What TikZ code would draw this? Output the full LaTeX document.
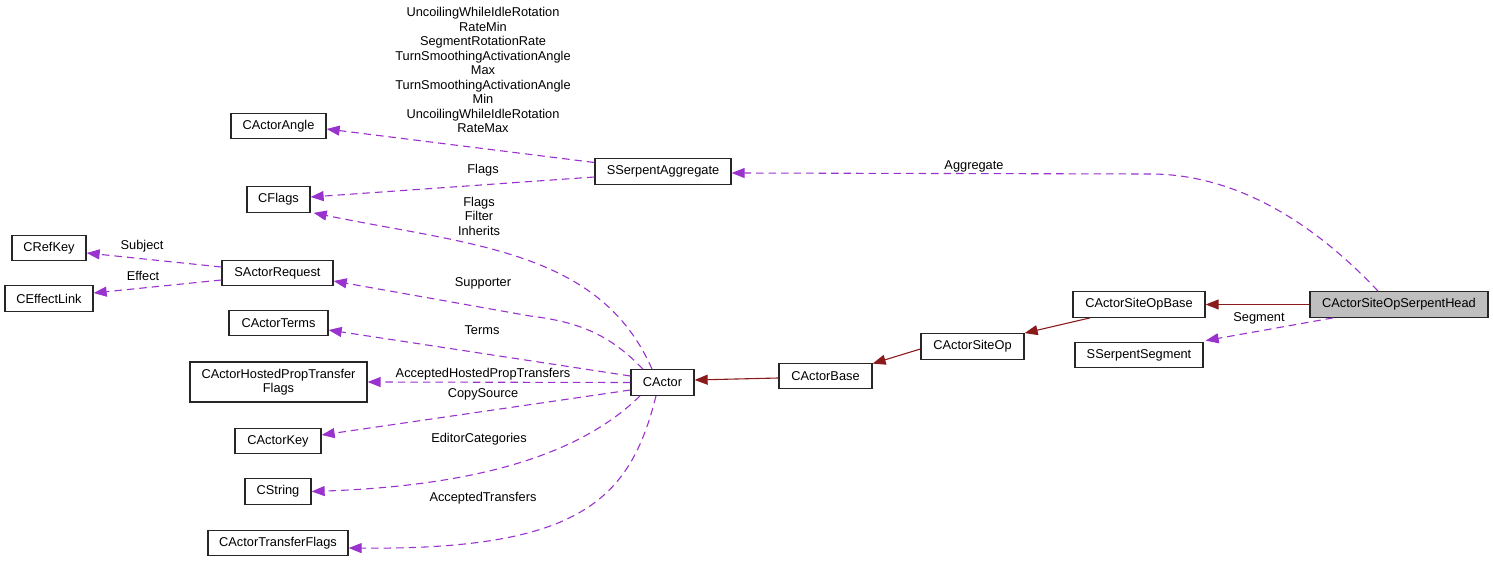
\documentclass[tikz,border=0pt]{standalone}
\usepackage{fontspec}
\setmainfont{Liberation Sans}
\usetikzlibrary{arrows.meta,calc}
\definecolor{edgepurple}{HTML}{9A32CD}
\definecolor{edgered}{HTML}{8B1A1A}
\definecolor{headgray}{HTML}{BFBFBF}
\begin{document}
\begin{tikzpicture}[x=1pt,y=-1pt,
 cls/.style={draw=black!85, line width=1.3pt, fill=white, inner sep=0pt, font=\fontsize{12.8}{14.5}\selectfont, align=center, minimum height=25.5pt},
 lbl/.style={inner sep=0pt, font=\fontsize{12.8}{14.5}\selectfont, align=center},
 usage/.style={draw=edgepurple, line width=1.1pt, dash pattern=on 7.5pt off 5pt, -{Triangle[length=13pt,width=10pt]}},
 inh/.style={draw=edgered, line width=1.1pt, -{Triangle[length=13pt,width=10pt]}}
]
\useasboundingbox (0,0) rectangle (1493,561);

% classes
\node[cls, minimum width=178pt, fill=headgray] (head) at (1399,304.5) {CActorSiteOpSerpentHead};
\node[cls, minimum width=132pt] (sobase) at (1139,304.5) {CActorSiteOpBase};
\node[cls, minimum width=128pt] (segment) at (1139,355) {SSerpentSegment};
\node[cls, minimum width=103pt] (siteop) at (972.5,346.5) {CActorSiteOp};
\node[cls, minimum width=93pt] (cbase) at (825.5,376) {CActorBase};
\node[cls, minimum width=63pt] (cactor) at (662.5,382.5) {CActor};
\node[cls, minimum width=136pt] (agg) at (663,171.5) {SSerpentAggregate};
\node[cls, minimum width=95pt] (angle) at (278.5,126) {CActorAngle};
\node[cls, minimum width=63pt] (flags) at (278.5,199.5) {CFlags};
\node[cls, minimum width=74pt] (refkey) at (49,248) {CRefKey};
\node[cls, minimum width=111pt] (sreq) at (277.5,273) {SActorRequest};
\node[cls, minimum width=88pt] (effect) at (49,298.5) {CEffectLink};
\node[cls, minimum width=99pt] (terms) at (278.5,323) {CActorTerms};
\node[cls, minimum width=177pt, minimum height=40pt] (hosted) at (278.5,382) {CActorHostedPropTransfer\\Flags};
\node[cls, minimum width=86pt] (key) at (278,441) {CActorKey};
\node[cls, minimum width=66pt] (cstring) at (278,491.5) {CString};
\node[cls, minimum width=140pt] (tflags) at (278,543) {CActorTransferFlags};

% inheritance
\draw[inh] (head.west) -- (sobase.east);
\draw[inh] ($(sobase.south)+(-49,0)$) -- (siteop.north east);
\draw[inh] ($(siteop.west)+(0,2.5)$) -- ($(cbase.north east)+(0,1)$);
\draw[inh] ($(cbase.west)+(0,2)$) -- ($(cactor.east)+(0,-2.5)$);

% usage
\draw[usage] ($(head.north)+(-21,0)$) .. controls (1330,240) and (1250,174) .. (1150,174) -- ($(agg.east)+(0,1.5)$);
\draw[usage] ($(head.south)+(-66,0)$) -- ($(segment.north east)+(2,-1)$);
\draw[usage] ($(agg.west)+(0,-9)$) -- ($(angle.east)+(0,3)$);
\draw[usage] ($(agg.west)+(0,5.5)$) -- ($(flags.east)+(0,-2.5)$);
\draw[usage] ($(cactor.north)+(-10.5,0)$) .. controls (600,250) and (470,245) .. ($(flags.south east)+(3,0)$);
\draw[usage] ($(cactor.north)+(-19.5,0)$) .. controls (610,335) and (580,322) .. (530,316) -- ($(sreq.east)+(0,8)$);
\draw[usage] ($(cactor.west)+(0,-6.5)$) -- ($(terms.east)+(0,7)$);
\draw[usage] (cactor.west) -- (hosted.east);
\draw[usage] ($(cactor.west)+(0,7.5)$) -- ($(key.east)+(0,-6)$);
\draw[usage] ($(cactor.south)+(-22.5,0)$) .. controls (590,445) and (500,485) .. (cstring.east);
\draw[usage] ($(cactor.south)+(-6.5,0)$) .. controls (630,500) and (580,550) .. ($(tflags.east)+(0,5)$);
\draw[usage] ($(sreq.west)+(0,-6)$) -- ($(refkey.east)+(0,5)$);
\draw[usage] ($(sreq.west)+(0,7)$) -- ($(effect.east)+(0,-5.5)$);

% labels
\node[lbl] (lAggregate) at (974,166) {Aggregate};
\node[lbl] (lSegment) at (1259,318) {Segment};
\node[lbl] (lAngle) at (483,70) {UncoilingWhileIdleRotation\\RateMin\\SegmentRotationRate\\TurnSmoothingActivationAngle\\Max\\TurnSmoothingActivationAngle\\Min\\UncoilingWhileIdleRotation\\RateMax};
\node[lbl] (lFlagsAgg) at (483,170) {Flags};
\node[lbl] (lFlagsActor) at (479,216) {Flags\\Filter\\Inherits};
\node[lbl] (lSubject) at (142,246) {Subject};
\node[lbl] (lEffect) at (143,276) {Effect};
\node[lbl] (lSupporter) at (483,283) {Supporter};
\node[lbl] (lTerms) at (482,330) {Terms};
\node[lbl] (lHosted) at (483,374) {AcceptedHostedPropTransfers};
\node[lbl] (lCopy) at (483,394) {CopySource};
\node[lbl] (lEditor) at (479,439) {EditorCategories};
\node[lbl] (lTransfers) at (483,498) {AcceptedTransfers};
\end{tikzpicture}
\end{document}
